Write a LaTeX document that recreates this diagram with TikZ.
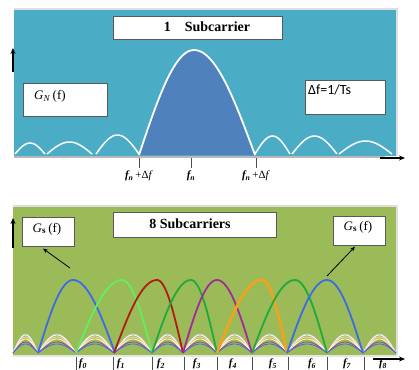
\documentclass[tikz,border=0pt]{standalone}
\usepackage{fontspec}
\setmainfont{Liberation Serif}
\newfontfamily\calibfont{Carlito}
\usetikzlibrary{arrows.meta}
\definecolor{panelA}{HTML}{4BACC6}
\definecolor{lobeA}{HTML}{4F81BD}
\definecolor{panelB}{HTML}{9BBB59}
\definecolor{cBlue}{HTML}{3D6BE6}
\definecolor{cLGreen}{HTML}{5FF05F}
\definecolor{cRed}{HTML}{B01C10}
\definecolor{cGreen}{HTML}{1FAA3A}
\definecolor{cPurple}{HTML}{A12C98}
\definecolor{cOrange}{HTML}{F2A31B}
\begin{document}
\begin{tikzpicture}[x=1pt,y=-1pt,
  box/.style={draw=black!65, fill=white, line width=0.6pt, inner sep=0pt},
  ticksty/.style={draw=black!70, line width=0.6pt},
  axis/.style={line width=1.6pt, -{Stealth[length=6pt,width=5pt]}},
  thinarrow/.style={line width=0.8pt, -{Stealth[length=5pt,width=4pt]}},
  lbl/.style={font=\bfseries\itshape\fontsize{11}{12}\selectfont, inner sep=0pt},
  ttl/.style={font=\bfseries\fontsize{14}{16}\selectfont, inner sep=0pt}]
\useasboundingbox[fill=white] (0,0) rectangle (419,369);

% ---------- top panel ----------
\fill[panelA] (14,9) rectangle (397,156);
\draw[gray!25, line width=1.2pt] (14,9) -- (397,9) -- (397,156);
\draw[gray!55, line width=1.4pt] (14,157) -- (385,157);

% main lobe
\fill[lobeA] plot[domain=0:180, samples=61]
  ({\x<90 ? 139+55*\x/90 : 194+61*(\x-90)/90}, {155-105*sin(\x)}) -- cycle;
\draw[white, line width=1.8pt] plot[domain=0:180, samples=61]
  ({\x<90 ? 139+55*\x/90 : 194+61*(\x-90)/90}, {155-105*sin(\x)});
% side lobes
\foreach \a/\b/\h in {15/45/11, 47/92/12, 96/139/19, 255/290/18, 292/337/18, 339/392/13}
  \draw[white, line width=1.5pt] plot[domain=0:180, samples=31]
    ({\a+(\b-\a)*\x/180}, {154-\h*sin(\x)});

\node[box, minimum width=169pt, minimum height=23pt, anchor=north west] (t1) at (113,16) {};
\node[ttl] (t1txt) at (207,27) {1\hspace{1em}Subcarrier};
\node[box, minimum width=84pt, minimum height=33pt, anchor=north west] (gn) at (23,83) {};
\node[anchor=west, inner sep=0pt, font=\fontsize{13}{14}\selectfont] (gntxt) at (34,96) {\textit{G}\textsubscript{\textit{N}}\,(f)};
\node[box, minimum width=80pt, minimum height=34pt, anchor=north west] (df) at (305,80) {};
\node[anchor=west, inner sep=0pt, font=\calibfont\fontsize{14}{16}\selectfont] (dftxt) at (308,90) {Δf=1/Ts};

\coordinate (ya0) at (13,72); \coordinate (ya1) at (13,48);
\draw[axis] (ya0) -- (ya1);
\coordinate (xa0) at (380,158); \coordinate (xa1) at (405,158);
\draw[axis] (xa0) -- (xa1);

\foreach \x/\n in {139/ta, 191/tb, 256/tc} {
  \coordinate (\n0) at (\x,158); \coordinate (\n1) at (\x,168);
  \draw[ticksty] (\n0) -- (\n1);
}
\node[lbl] (lf1) at (139,176) {f\textsubscript{n}\,\normalfont+Δ\textit{f}};
\node[lbl] (lf2) at (191,176) {f\textsubscript{n}};
\node[lbl] (lf3) at (256,176) {f\textsubscript{n}\,\normalfont+Δ\textit{f}};

% ---------- bottom panel ----------
\fill[panelB] (13,206) rectangle (397,355);
\draw[gray!25, line width=1.5pt] (13,206) -- (397,206) -- (397,355);
\draw[gray!20, line width=2pt] (13,356) -- (397,356);

% side lobe bundles
\foreach \a/\b in {13/38, 38/76, 76/114, 114/152, 152/183, 183/217, 217/252, 252/287, 287/327, 327/363, 363/396} {
  \foreach \c/\h in {yellow!85!black/16, gray!45/19, white/18, pink!80/16, white!85!yellow/14, violet!75/11, cBlue/9}
    \draw[\c, line width=0.8pt] plot[domain=0:180, samples=25]
      ({\a+(\b-\a)*\x/180}, {353-\h*sin(\x)});
}

% main lobes
\foreach \a/\p/\b/\c/\w in {38/73/115/cBlue/1.8, 76/122/152/cLGreen/1.8, 114/157/183/cRed/1.8,
    152/191/217/cGreen/1.8, 183/217/252/cPurple/1.8, 217/262/287/cOrange/2.6,
    252/295/327/cGreen/1.8, 287/327/363/cBlue/1.8}
  \draw[\c, line width=\w pt] plot[domain=0:180, samples=61]
    ({\x<90 ? \a+(\p-\a)*\x/90 : \p+(\b-\p)*(\x-90)/90}, {353-73*sin(\x)});

\node[box, minimum width=163pt, minimum height=25pt, anchor=north west] (t2) at (113,212) {};
\node[ttl] (t2txt) at (190,224) {8 Subcarriers};
\node[box, minimum width=52pt, minimum height=29pt, anchor=north west] (gl) at (22,217) {};
\node[inner sep=0pt, font=\fontsize{13}{14}\selectfont] (gltxt) at (47,229) {\textit{G}\textsubscript{\textbf{s}}\,(f)};
\node[box, minimum width=52pt, minimum height=29pt, anchor=north west] (gr) at (333,216) {};
\node[inner sep=0pt, font=\fontsize{13}{14}\selectfont] (grtxt) at (358,227) {\textit{G}\textsubscript{\textbf{s}}\,(f)};

\coordinate (la) at (70,268);
\draw[thinarrow] (la) -- ([xshift=21pt,yshift=-2pt]gl.south west);
\coordinate (ra) at (327,276);
\draw[thinarrow] (ra) -- ([xshift=22pt,yshift=-1pt]gr.south west);

\coordinate (yb0) at (13,248); \coordinate (yb1) at (13,218);
\draw[axis] (yb0) -- (yb1);
\coordinate (xb0) at (373,359); \coordinate (xb1) at (405,359);
\draw[axis] (xb0) -- (xb1);

\foreach \x/\lx/\i in {76/83/0, 113/121/1, 152/161/2, 184/197/3, 217/233/4, 252/273/5, 288/312/6, 327/347/7, 364/383/8} {
  \coordinate (bt\i a) at (\x,357); \coordinate (bt\i b) at (\x,372);
  \draw[ticksty] (bt\i a) -- (bt\i b);
  \node[lbl] (bf\i) at (\lx,364) {f\textsubscript{\i}};
}
\end{tikzpicture}
\end{document}
